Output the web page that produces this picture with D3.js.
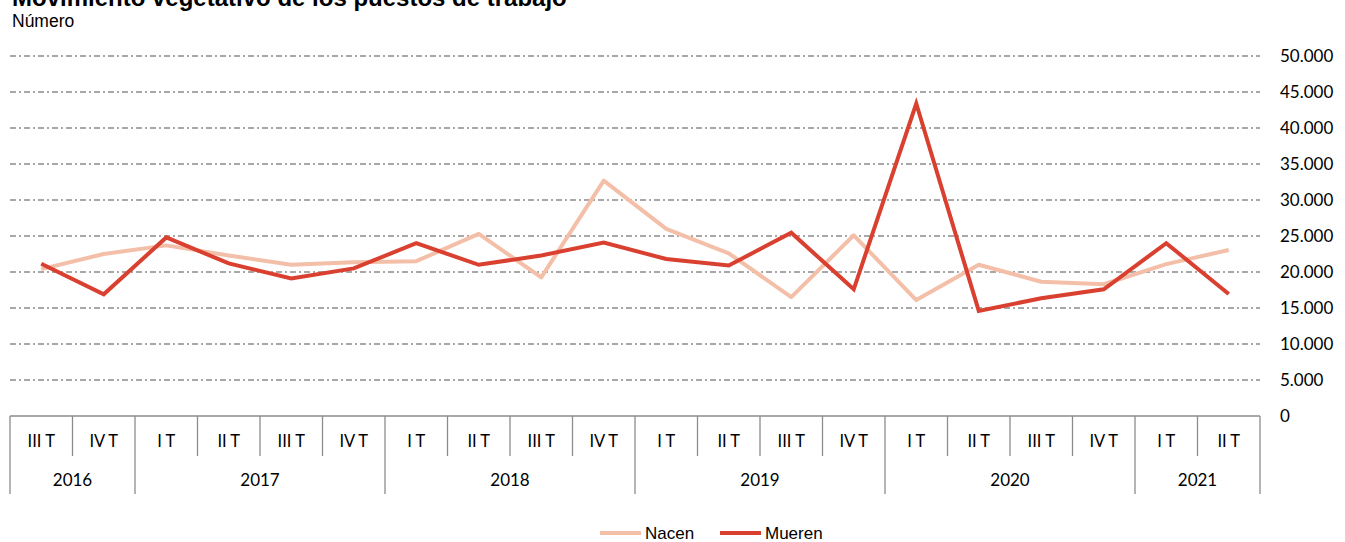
<!DOCTYPE html>
<html>
<head>
<meta charset="utf-8">
<script src="https://cdn.jsdelivr.net/npm/d3@7"></script>
<style>
body { margin: 0; background: #fff; }
svg { display: block; }
</style>
</head>
<body>
<svg width="1345" height="542"></svg>
<script>
// trimestres y años
var quarters = ["III T","IV T","I T","II T","III T","IV T","I T","II T","III T","IV T",
	"I T","II T","III T","IV T","I T","II T","III T","IV T","I T","II T"];
var years = ["2016","2017","2018","2019","2020","2021"];
var yearSpan = [2, 4, 4, 4, 4, 2];

var nacen = [20400, 22500, 23700, 22300, 21000, 21350, 21500, 25300, 19250, 32700,
	26000, 22600, 16500, 25100, 16100, 21000, 18650, 18300, 21100, 23050];
var mueren = [21150, 16900, 24800, 21200, 19100, 20500, 24000, 21000, 22300, 24100,
	21800, 20900, 25450, 17600, 43400, 14600, 16350, 17600, 24000, 16950];

var yTicks = [0, 5000, 10000, 15000, 20000, 25000, 30000, 35000, 40000, 45000, 50000];

var es = d3.formatLocale({decimal: ",", thousands: ".", grouping: [3], currency: ["", " €"]});
var fmt = es.format(",");

var svg = d3.select("svg");
var mLeft = 10, mRight = 1260, mTop = 56, mBottom = 416;

var x = d3.scaleBand().domain(d3.range(quarters.length)).range([mLeft, mRight]);
var y = d3.scaleLinear().domain([0, 50000]).range([mBottom, mTop]);

// titulo
svg.append("text").attr("x", 12).attr("y", 6)
	.style("font-family", "Liberation Sans, Arial").style("font-weight", "bold").style("font-size", "24px")
	.text("Movimiento vegetativo de los puestos de trabajo");
svg.append("text").attr("x", 12).attr("y", 27)
	.style("font-family", "Liberation Sans, Arial").style("font-size", "17.5px")
	.text("Número");

// rejilla
svg.append("g").selectAll("line")
	.data(yTicks.filter(d => d > 0))
	.enter().append("line")
	.attr("x1", mLeft).attr("x2", mRight)
	.attr("y1", d => y(d)).attr("y2", d => y(d))
	.style("stroke", "#8c8c8c").style("stroke-width", 1.3)
	.style("stroke-dasharray", "6,3,2,3");

// eje y a la derecha
var yAxis = d3.axisRight(y).tickValues(yTicks).tickSize(0).tickPadding(0).tickFormat(fmt);
var yg = svg.append("g").attr("transform", "translate(1280,0)").call(yAxis);
yg.select(".domain").remove();
yg.selectAll("text")
	.style("font-family", "Lato").style("font-size", "17px").style("fill", "#000");

// eje x por categorias
var xg = svg.append("g");
xg.append("line").attr("x1", mLeft).attr("x2", mRight).attr("y1", mBottom).attr("y2", mBottom)
	.style("stroke", "#8c8c8c").style("stroke-width", 1.3);

var yearEdges = [0];
yearSpan.forEach(function(s, i){ yearEdges.push(yearEdges[i] + s); });

d3.range(quarters.length + 1).forEach(function(i){
	var px = i < quarters.length ? x(i) : mRight;
	var isYear = yearEdges.indexOf(i) >= 0;
	xg.append("line")
		.attr("x1", px).attr("x2", px)
		.attr("y1", mBottom).attr("y2", isYear ? 494 : 456)
		.style("stroke", "#8c8c8c").style("stroke-width", 1.3);
});

xg.selectAll(".q").data(quarters).enter().append("text")
	.attr("class", "q")
	.attr("x", (d, i) => x(i) + x.bandwidth() / 2)
	.attr("y", 447)
	.attr("text-anchor", "middle")
	.style("font-family", "Lato").style("font-size", "16.5px")
	.text(d => d);

xg.selectAll(".yr").data(years).enter().append("text")
	.attr("class", "yr")
	.attr("x", (d, i) => (x(yearEdges[i]) + (yearEdges[i+1] < quarters.length ? x(yearEdges[i+1]) : mRight)) / 2)
	.attr("y", 486)
	.attr("text-anchor", "middle")
	.style("font-family", "Lato").style("font-size", "17px")
	.text(d => d);

// lineas
var line = d3.line()
	.x((d, i) => x(i) + x.bandwidth() / 2)
	.y(d => y(d));

svg.append("path").datum(nacen).attr("d", line)
	.style("fill", "none").style("stroke", "#f4bfa8").style("stroke-width", 4)
	.style("stroke-linejoin", "round");
svg.append("path").datum(mueren).attr("d", line)
	.style("fill", "none").style("stroke", "#d9402f").style("stroke-width", 4)
	.style("stroke-linejoin", "miter");

// leyenda
var legend = [["Nacen", "#f4bfa8", 600], ["Mueren", "#d9402f", 720]];
var lg = svg.append("g").selectAll("g").data(legend).enter().append("g")
	.attr("transform", d => "translate(" + d[2] + ",533)");
lg.append("line").attr("x1", 0).attr("x2", 41).attr("y1", 0).attr("y2", 0)
	.style("stroke", d => d[1]).style("stroke-width", 4);
lg.append("text").attr("x", 45).attr("y", 6)
	.style("font-family", "Liberation Sans, Arial").style("font-size", "17px")
	.text(d => d[0]);
</script>
</body>
</html>
